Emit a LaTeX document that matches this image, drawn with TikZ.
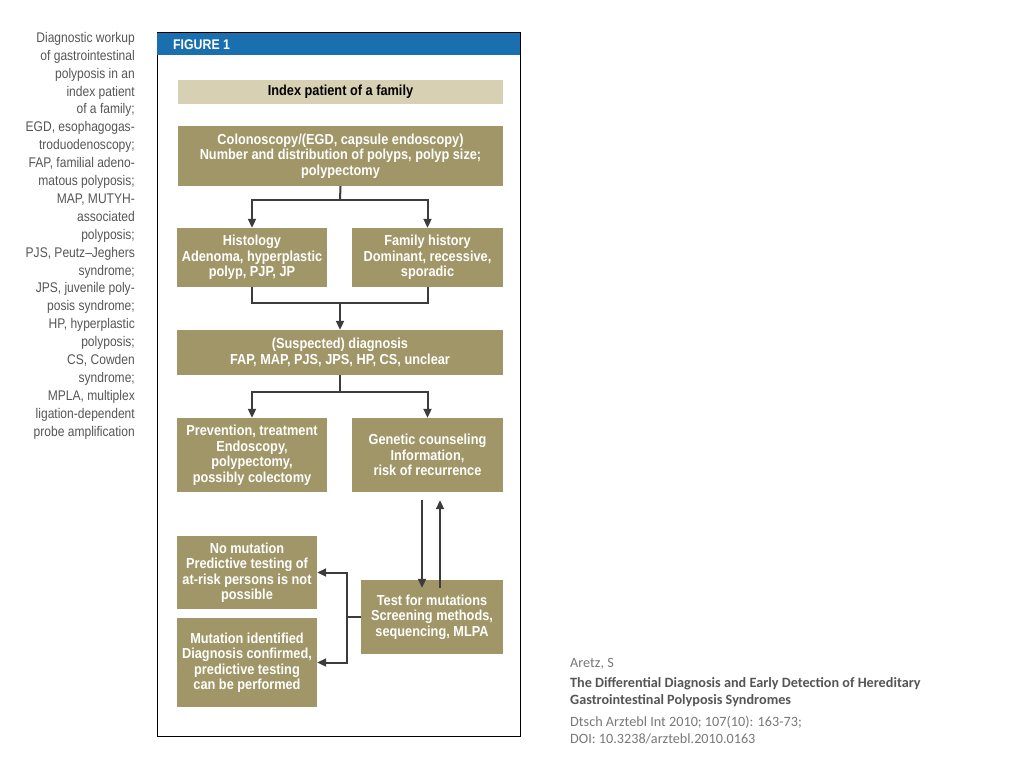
\documentclass[tikz,border=0pt]{standalone}
\usepackage{fontspec}
\setmainfont{Liberation Sans}
\newfontfamily\cond{Liberation Sans}[FakeStretch=0.88]
\newfontfamily\capfont{Liberation Sans}[FakeStretch=0.86]
\newfontfamily\citefont{Carlito}
\usetikzlibrary{arrows.meta}
\definecolor{khaki}{RGB}{160,150,104}
\definecolor{lighttan}{RGB}{216,208,178}
\definecolor{figblue}{RGB}{26,111,174}
\definecolor{arrowgray}{RGB}{60,60,60}
\definecolor{captiongray}{RGB}{85,85,85}
\definecolor{citegray}{RGB}{120,120,120}
\begin{document}
\begin{tikzpicture}[x=1pt,y=-1pt,
  box/.style={fill=khaki, text=white, align=center, inner sep=0pt,
    font=\cond\bfseries\fontsize{14.5}{15.5}\selectfont},
  conn/.style={draw=arrowgray, line width=2pt},
  arr/.style={conn, -{Triangle[length=9pt,width=8pt]}}
]
\useasboundingbox (0,0) rectangle (1024,768);
% left caption
\node[anchor=north east, align=right, text=captiongray, inner sep=0pt,
  font=\capfont\fontsize{14}{17.9}\selectfont] (cap) at (135,32)
{Diagnostic workup\\ of gastrointestinal\\ polyposis in an\\ index patient\\ of a family;\\
EGD, esophagogas-\\ troduodenoscopy;\\ FAP, familial adeno-\\ matous polyposis;\\
MAP, MUTYH-\\ associated\\ polyposis;\\ PJS, Peutz–Jeghers\\ syndrome;\\
JPS, juvenile poly-\\ posis syndrome;\\ HP, hyperplastic\\ polyposis;\\ CS, Cowden\\
syndrome;\\ MPLA, multiplex\\ ligation-dependent\\ probe amplification};
% frame
\draw[line width=1pt, black] (157,33) rectangle (520,736);
\fill[figblue] (157,33) rectangle (520,55);
\node[anchor=west, text=white, inner sep=0pt, font=\cond\bfseries\fontsize{14}{14}\selectfont] (fig) at (173,45) {FIGURE 1};
% boxes
\node[box, fill=lighttan, text=black, minimum width=325, minimum height=24] (idx) at (340.5,92) {Index patient of a family};
\node[box, minimum width=325, minimum height=60] (colo) at (340.5,156)
 {Colonoscopy/(EGD, capsule endoscopy)\\ Number and distribution of polyps, polyp size;\\ polypectomy};
\node[box, minimum width=150, minimum height=59] (hist) at (252,257.5)
 {Histology\\ Adenoma, hyperplastic\\ polyp, PJP, JP};
\node[box, minimum width=151, minimum height=59] (fam) at (427.5,257.5)
 {Family history\\ Dominant, recessive,\\ sporadic};
\node[box, minimum width=326, minimum height=45] (susp) at (340,352.5)
 {(Suspected) diagnosis\\ FAP, MAP, PJS, JPS, HP, CS, unclear};
\node[box, minimum width=150, minimum height=74] (prev) at (252,455)
 {Prevention, treatment\\ Endoscopy,\\ polypectomy,\\ possibly colectomy};
\node[box, minimum width=151, minimum height=74] (gen) at (427.5,455)
 {Genetic counseling\\ Information,\\ risk of recurrence};
\node[box, minimum width=142, minimum height=74] (test) at (432,617)
 {Test for mutations\\ Screening methods,\\ sequencing, MLPA};
\node[box, minimum width=140, minimum height=73] (nomut) at (247,572.5)
 {No mutation\\ Predictive testing of\\ at-risk persons is not\\ possible};
\node[box, minimum width=140, minimum height=89] (mutid) at (247,662.5)
 {Mutation identified\\ Diagnosis confirmed,\\ predictive testing\\ can be performed};
% connectors
\coordinate (s1) at (340,200);
\draw[conn] (colo.south) -- (s1);
\draw[arr] (s1) -| (hist.north);
\draw[arr] (s1) -| (fam.north);
\coordinate (m1) at (340,303);
\draw[conn] (hist.south) |- (m1);
\draw[conn] (fam.south) |- (m1);
\draw[arr] (m1) -- (susp.north);
\coordinate (s2) at (340,392);
\draw[conn] (susp.south) -- (s2);
\draw[arr] (s2) -| (prev.north);
\draw[arr] (s2) -| (gen.north);
\draw[arr] ([xshift=-5.5pt,yshift=-8pt]gen.south) -- ([xshift=-10pt,yshift=-8pt]test.north);
\draw[arr] ([xshift=8pt,yshift=-8pt]test.north) -- ([xshift=12.5pt,yshift=-8pt]gen.south);
\coordinate (j) at (347,617);
\draw[conn] (test.west) -- (j);
\draw[arr] (j) |- (nomut.east);
\draw[arr] (j) |- (mutid.east);
% citation
\node[anchor=north west, align=left, inner sep=0pt, text=citegray,
  font=\citefont\fontsize{14.2}{17}\selectfont] (cit) at (570,658)
{Aretz, S\\[3pt]
{\bfseries\color{captiongray}The Differential Diagnosis and Early Detection of Hereditary}\\
{\bfseries\color{captiongray}Gastrointestinal Polyposis Syndromes}\\[5pt]
Dtsch Arztebl Int 2010; 107(10): 163-73;\\
DOI: 10.3238/arztebl.2010.0163};
\end{tikzpicture}
\end{document}
